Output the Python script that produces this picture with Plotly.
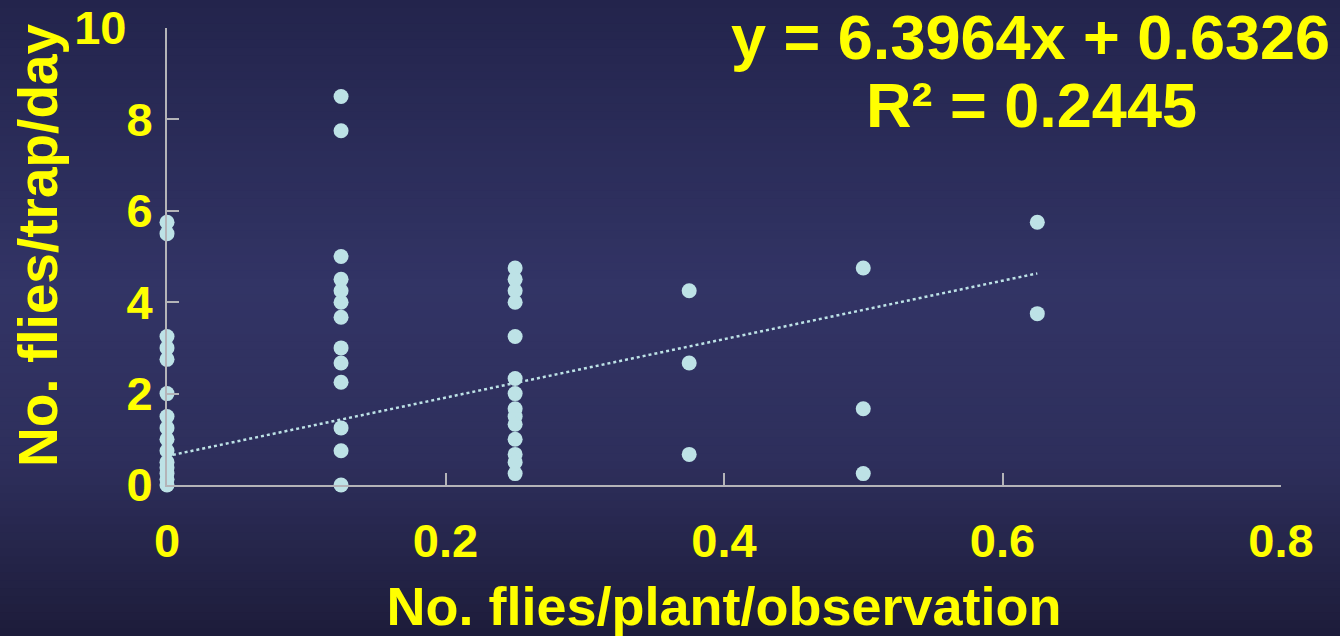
import plotly.graph_objects as go

# ---- data ----
x_vals = ([0.0] * 15 + [0.125] * 13 + [0.25] * 14 + [0.375] * 3 + [0.5] * 3 + [0.625] * 2)
y_vals = (
    [5.75, 5.5, 3.25, 3.0, 2.75, 2.0, 1.5, 1.25, 1.0, 0.75, 0.5, 0.375, 0.25, 0.125, 0.0]
    + [8.5, 7.75, 5.0, 4.5, 4.25, 4.0, 3.67, 3.0, 2.67, 2.25, 1.25, 0.75, 0.0]
    + [4.75, 4.5, 4.25, 4.0, 3.25, 2.33, 2.0, 1.67, 1.5, 1.33, 1.0, 0.67, 0.5, 0.25]
    + [4.25, 2.67, 0.67]
    + [4.75, 1.67, 0.25]
    + [5.75, 3.75]
)
slope = 6.3964
intercept = 0.6326
r2 = 0.2445
trend_x = [0.0, 0.625]
trend_y = [slope * v + intercept for v in trend_x]

x_ticks = [0, 0.2, 0.4, 0.6, 0.8]
x_ticktext = ["0", "0.2", "0.4", "0.6", "0.8"]
y_ticks = [0, 2, 4, 6, 8, 10]
y_ticktext = ["0", "2", "4", "6", "8", "10\u00a0\u00a0"]
x_title = "No. flies/plant/observation"
y_title = "No. flies/trap/day"

FONT = "Liberation Sans, Arial, sans-serif"
YELLOW = "#ffff00"
POINT = "#bde2e6"
AXIS = "#b4b4b8"

W, H = 1340, 636
L, R, T, B = 167, 59, 28, 151
plot_w = W - L - R
plot_h = H - T - B

fig = go.Figure()

fig.add_trace(go.Scatter(
    x=trend_x, y=trend_y, mode="lines",
    line=dict(color=POINT, width=2.5, dash="dot"),
    hoverinfo="skip", showlegend=False, cliponaxis=False,
))
fig.add_trace(go.Scatter(
    x=x_vals, y=y_vals, mode="markers",
    marker=dict(color=POINT, size=15, line=dict(width=0)),
    showlegend=False, cliponaxis=False,
))

# background gradient stripes (decoration)
stops = [(0.0, (35, 36, 76)), (0.45, (50, 52, 101)), (0.72, (46, 47, 92)), (1.0, (29, 28, 58))]

def col_at(t):
    for (t0, c0), (t1, c1) in zip(stops[:-1], stops[1:]):
        if t0 <= t <= t1:
            f = (t - t0) / (t1 - t0)
            return "rgb(%d,%d,%d)" % tuple(round(a + (b - a) * f) for a, b in zip(c0, c1))
    return "rgb(%d,%d,%d)" % stops[-1][1]

n = 80
shapes = []
for i in range(n):
    py0 = H * i / n
    py1 = H * (i + 1) / n + 1
    y0 = (H - B - py1) / plot_h
    y1 = (H - B - py0) / plot_h
    shapes.append(dict(
        type="rect", xref="paper", yref="paper",
        x0=-L / plot_w - 0.01, x1=(W - L) / plot_w + 0.01, y0=y0, y1=y1,
        fillcolor=col_at((i + 0.5) / n), line=dict(width=0), layer="below",
    ))

fig.update_layout(
    width=W, height=H,
    margin=dict(l=L, r=R, t=T, b=B, autoexpand=False),
    paper_bgcolor="rgb(40,41,84)",
    plot_bgcolor="rgba(0,0,0,0)",
    shapes=shapes,
    font=dict(family=FONT, color=YELLOW),
    xaxis=dict(
        range=[0, 0.8], tickvals=x_ticks, ticktext=x_ticktext, automargin=False,
        showgrid=False, zeroline=False, showline=True, linecolor=AXIS, linewidth=2,
        ticks="inside", ticklen=12, tickwidth=2, tickcolor=AXIS,
        tickfont=dict(family=FONT, size=47, color=YELLOW, weight="bold"),
        ticklabelstandoff=14,
        title=dict(text="<b>%s</b>" % x_title,
                   font=dict(family=FONT, size=54, color=YELLOW), standoff=23),
    ),
    yaxis=dict(
        range=[0, 10], tickvals=y_ticks, ticktext=y_ticktext, automargin=False,
        showgrid=False, zeroline=False, showline=True, linecolor=AXIS, linewidth=2,
        ticks="inside", ticklen=12, tickwidth=2, tickcolor=AXIS,
        tickfont=dict(family=FONT, size=47, color=YELLOW, weight="bold"),
        ticklabelstandoff=3,
    ),
    annotations=[
        dict(text="<b>%s</b>" % y_title, textangle=-90,
             xref="paper", yref="paper",
             x=(38 - L) / plot_w, y=(H - B - 245) / plot_h,
             xanchor="center", yanchor="middle", showarrow=False,
             font=dict(family=FONT, size=55, color=YELLOW)),
        dict(text="<b>y = %.4fx + %.4f</b>" % (slope, intercept),
             xref="paper", yref="paper",
             x=(1030 - L) / plot_w, y=(H - B - 37) / plot_h,
             xanchor="center", yanchor="middle", showarrow=False,
             font=dict(family=FONT, size=63, color=YELLOW)),
        dict(text="<b>R² = %.4f</b>" % r2,
             xref="paper", yref="paper",
             x=(1031 - L) / plot_w, y=(H - B - 105) / plot_h,
             xanchor="center", yanchor="middle", showarrow=False,
             font=dict(family=FONT, size=63, color=YELLOW)),
    ],
)

fig.write_html("out.html", config={"displayModeBar": False},
               post_script="document.body.style.margin='0';document.body.style.overflow='hidden';")
